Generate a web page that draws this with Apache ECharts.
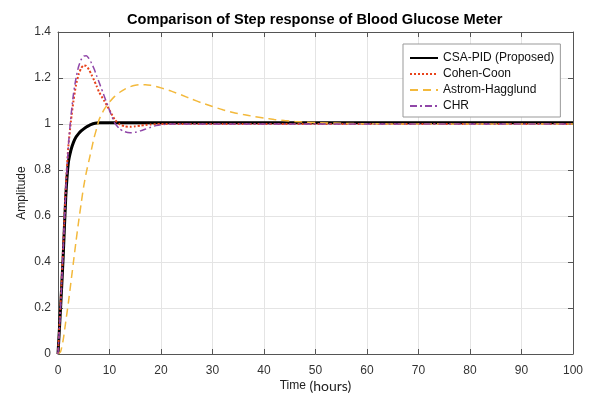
<!DOCTYPE html>
<html>
<head>
<meta charset="utf-8">
<script src="https://cdn.jsdelivr.net/npm/echarts@6/dist/echarts.min.js"></script>
<style>html,body{margin:0;padding:0;background:#fff}#c{width:593px;height:394px}</style>
</head>
<body>
<div id="c"></div>
<script>
const titleText = 'Comparison of Step response of Blood Glucose Meter';
const seriesNames = ['CSA-PID (Proposed)', 'Cohen-Coon', 'Astrom-Hagglund', 'CHR'];
const xTicks = [0, 10, 20, 30, 40, 50, 60, 70, 80, 90, 100];
const yTicks = [0, 0.2, 0.4, 0.6, 0.8, 1, 1.2, 1.4];

const time = [0,0.5,1,1.5,2,2.5,3,3.5,4,4.5,5,5.5,6,6.5,7,7.5,8,9,10,11,12,13,14,15,16,17,18,19,20,22,24,26,28,30,32,34,36,38,40,42,44,46,48,50,55,60,70,80,90,100];

const csaPid = [0,0.2,0.42,0.68,0.83,0.885,0.92,0.943,0.958,0.97,0.979,0.987,0.993,0.998,1.002,1.004,1.005,
  1.005,1.005,1.005,1.005,1.005,1.005,1.005,1.005,1.005,1.005,1.005,1.005,
  1.005,1.005,1.005,1.005,1.005,1.005,1.005,1.005,1.005,1.005,1.005,1.005,1.005,1.005,1.005,
  1.005,1.005,1.005,1.005,1.005,1.005];

const cohenCoon = [0,0.22,0.46,0.72,0.9,1.01,1.1,1.17,1.215,1.243,1.255,1.252,1.237,1.215,1.19,1.165,1.138,
  1.1,1.06,1.02,0.998,0.99,0.988,0.99,0.993,0.996,0.998,0.999,1.0,
  1,1,1,1,1,1,1,1,1,1,1,1,1,1,1,
  1,1,1,1,1,1];

const astromHagglund = [0,0.01,0.06,0.14,0.22,0.31,0.4,0.49,0.575,0.655,0.73,0.79,0.84,0.89,0.94,0.98,1.02,
  1.065,1.095,1.12,1.138,1.152,1.162,1.168,1.171,1.171,1.168,1.163,1.157,
  1.143,1.126,1.108,1.091,1.076,1.062,1.05,1.041,1.033,1.026,1.02,1.015,1.011,1.008,1.006,
  1.003,1.001,1,1,1,1];

const chr = [0,0.2,0.45,0.7,0.9,1.03,1.13,1.2,1.25,1.28,1.295,1.297,1.285,1.265,1.24,1.21,1.18,
  1.12,1.06,1.005,0.978,0.966,0.962,0.964,0.97,0.978,0.986,0.993,0.997,
  1,1,1,1,1,1,1,1,1,1,1,1,1,1,1,
  1,1,1,1,1,1];

const toPairs = vals => time.map((t, i) => [t, vals[i]]);
const FONT = '"Liberation Sans", Arial, sans-serif';

const chart = echarts.init(document.getElementById('c'), null, {renderer: 'canvas'});
const axisLineStyle = {color: '#555', width: 1};
const tickStyle = {show: true, inside: true, length: 5, lineStyle: {color: '#555'}};

chart.setOption({
  animation: false,
  backgroundColor: '#fff',
  title: {
    text: titleText, left: 127, top: 12, padding: 0,
    textStyle: {fontFamily: FONT, fontSize: 14.6, fontWeight: 'bold', color: '#000'}
  },
  grid: {left: 58, right: 20, top: 32, bottom: 40, containLabel: false, outerBoundsMode: 'none'},
  legend: {
    orient: 'vertical', left: 403, top: 44, padding: [8, 6, 5, 6], itemGap: 4,
    itemWidth: 28, itemHeight: 12, backgroundColor: '#fff', borderColor: '#999', borderWidth: 1,
    itemStyle: {opacity: 0},
    textStyle: {fontFamily: FONT, fontSize: 12, color: '#111'},
    data: seriesNames
  },
  xAxis: [{
    type: 'value', min: xTicks[0], max: xTicks[xTicks.length - 1], interval: 10,
    axisLine: {show: true, onZero: false, lineStyle: axisLineStyle},
    axisTick: tickStyle,
    axisLabel: {fontFamily: FONT, fontSize: 12, color: '#333', margin: 11},
    splitLine: {show: true, lineStyle: {color: '#e4e4e4', width: 1}},
    name: '{a|Time}{b| (hours)}', nameLocation: 'middle', nameGap: 25, nameMoveOverlap: false,
    nameTextStyle: {rich: {
      a: {fontFamily: FONT, fontSize: 12, color: '#222'},
      b: {fontFamily: 'Lato, "Open Sans", sans-serif', fontSize: 14, color: '#222'}
    }}
  }, {
    type: 'value', position: 'top', min: 0, max: 100, interval: 10,
    axisLine: {show: true, onZero: false, lineStyle: axisLineStyle},
    axisTick: tickStyle, axisLabel: {show: false}, splitLine: {show: false}
  }],
  yAxis: [{
    type: 'value', min: yTicks[0], max: yTicks[yTicks.length - 1], interval: 0.2,
    axisLine: {show: true, onZero: false, lineStyle: axisLineStyle},
    axisTick: tickStyle,
    axisLabel: {fontFamily: FONT, fontSize: 12, color: '#333', margin: 7,
      formatter: v => String(+v.toFixed(1))},
    splitLine: {show: true, lineStyle: {color: '#e4e4e4', width: 1}},
    name: 'Amplitude', nameLocation: 'middle', nameGap: 30, nameRotate: 90, nameMoveOverlap: false,
    nameTextStyle: {fontFamily: FONT, fontSize: 12, color: '#222'}
  }, {
    type: 'value', position: 'right', min: 0, max: 1.4, interval: 0.2,
    axisLine: {show: true, onZero: false, lineStyle: axisLineStyle},
    axisTick: tickStyle, axisLabel: {show: false}, splitLine: {show: false}
  }],
  series: [
    {name: seriesNames[0], type: 'line', data: toPairs(csaPid), symbol: 'none', smooth: 0.2,
      itemStyle: {color: '#000'}, lineStyle: {color: '#000', width: 3}},
    {name: seriesNames[1], type: 'line', data: toPairs(cohenCoon), symbol: 'none', smooth: 0.2,
      itemStyle: {color: '#e8431b'}, lineStyle: {color: '#e8431b', width: 2, type: [2, 2]}},
    {name: seriesNames[2], type: 'line', data: toPairs(astromHagglund), symbol: 'none', smooth: 0.2,
      itemStyle: {color: '#f3b93c'}, lineStyle: {color: '#f3b93c', width: 1.5, type: [8, 5]}},
    {name: seriesNames[3], type: 'line', data: toPairs(chr), symbol: 'none', smooth: 0.2,
      itemStyle: {color: '#9046a8'}, lineStyle: {color: '#9046a8', width: 1.5, type: [7, 3, 2, 3]}}
  ]
});
</script>
</body>
</html>
